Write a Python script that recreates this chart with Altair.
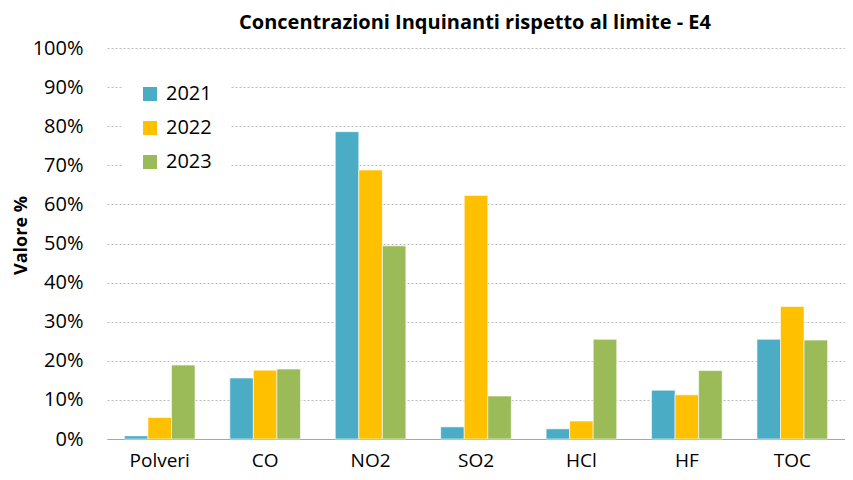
import altair as alt
import pandas as pd

categories = ["Polveri", "CO", "NO2", "SO2", "HCl", "HF", "TOC"]
years = ["2021", "2022", "2023"]
v2021 = [0.8, 15.6, 78.6, 3.1, 2.6, 12.5, 25.5]
v2022 = [5.5, 17.6, 68.8, 62.3, 4.6, 11.3, 33.9]
v2023 = [18.9, 17.9, 49.4, 11.0, 25.5, 17.5, 25.3]
colors = ["#4BACC6", "#FFC000", "#9BBB59"]

rows = []
for yr, vals in zip(years, [v2021, v2022, v2023]):
    for c, v in zip(categories, vals):
        rows.append({"Inquinante": c, "Anno": yr, "Valore": v / 100.0})
df = pd.DataFrame(rows)

FONT = "Open Sans"

chart = alt.Chart(df).mark_bar(stroke="white", strokeWidth=0.6).encode(
    x=alt.X("Inquinante:N", sort=categories, title=None,
            scale=alt.Scale(paddingInner=0.33, paddingOuter=0.165),
            axis=alt.Axis(labelAngle=0, labelFontSize=19, labelColor="#000000",
                          labelFont=FONT, ticks=False, tickSize=0, labelPadding=12,
                          domain=True, domainColor="#A6A6A6", domainWidth=1, grid=False)),
    xOffset=alt.XOffset("Anno:N", sort=years, scale=alt.Scale(paddingInner=0, paddingOuter=0)),
    y=alt.Y("Valore:Q", title="Valore %",
            scale=alt.Scale(domain=[0, 1], nice=False),
            axis=alt.Axis(format=".0%", values=[i / 10 for i in range(11)],
                          labelFontSize=20, labelColor="#000000", labelFont=FONT,
                          ticks=False, tickSize=0, labelPadding=24, domain=False,
                          grid=True, gridColor="#BDBDBD", gridDash=[2, 2], gridWidth=1,
                          titleFont=FONT, titleFontSize=18, titleFontWeight="bold",
                          titleColor="#000000", titleX=-77, titleY=187, titleAngle=-90,
                          titleBaseline="bottom")),
    color=alt.Color("Anno:N", sort=years,
                    scale=alt.Scale(domain=years, range=colors),
                    legend=alt.Legend(title=None, orient="none", legendX=16, legendY=19,
                                      symbolType="square", symbolSize=196,
                                      symbolStrokeWidth=0, labelFontSize=20,
                                      labelFont=FONT, labelColor="#000000",
                                      labelOffset=6, rowPadding=14, padding=17,
                                      fillColor="white", strokeColor="white")),
).properties(
    width=738,
    height=391,
    padding={"left": 99, "top": 40, "right": 0, "bottom": 33},
    autosize=alt.AutoSizeParams(type="none"),
    title=alt.TitleParams("Concentrazioni Inquinanti rispetto al limite - E4",
                          font=FONT, fontSize=20, fontWeight="bold", color="#000000",
                          anchor="middle", offset=5, dx=-1),
).configure_view(stroke=None)

chart.save("out.html", embed_options={"renderer": "svg", "actions": False})
